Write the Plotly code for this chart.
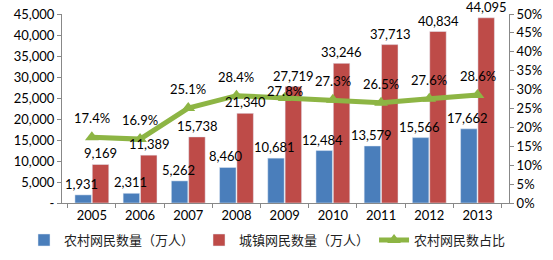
import plotly.graph_objects as go

years = ["2005", "2006", "2007", "2008", "2009", "2010", "2011", "2012", "2013"]
rural = [1931, 2311, 5262, 8460, 10681, 12484, 13579, 15566, 17662]
urban = [9169, 11389, 15738, 21340, 27719, 33246, 37713, 40834, 44095]
share = [17.4, 16.9, 25.1, 28.4, 27.8, 27.3, 26.5, 27.6, 28.6]

left_ticks = [0, 5000, 10000, 15000, 20000, 25000, 30000, 35000, 40000, 45000]
left_text = ["-"] + [f"{v:,}" for v in left_ticks[1:]]
right_ticks = [0, 5, 10, 15, 20, 25, 30, 35, 40, 45, 50]
right_text = [f"{v}%" for v in right_ticks]

# label offset tweaks (pixels), layout only
share_label_shift = {"2009": 7}

font_lat = "Lato, 'Noto Sans', sans-serif"
font_cjk = "'Noto Sans CJK SC', sans-serif"
green = "#8DB544"

fig = go.Figure()
fig.add_trace(go.Bar(
    x=years, y=rural, name="农村网民数量（万人）",
    marker=dict(color="#4A7EBB"),
))
fig.add_trace(go.Bar(
    x=years, y=urban, name="城镇网民数量（万人）",
    marker=dict(color="#BE4B48"),
))
fig.add_trace(go.Scatter(
    x=years, y=share, name="农村网民数占比", yaxis="y2",
    mode="lines+markers",
    line=dict(color=green, width=5),
    marker=dict(symbol="triangle-up", size=12, color=green),
    cliponaxis=False,
))

annotations = []
lab_font = dict(size=13, color="#000", family=font_lat)
for i, (yr, r, u, s) in enumerate(zip(years, rural, urban, share)):
    annotations.append(dict(x=i, y=r, xref="x", yref="y", text=f"{r:,}",
                            showarrow=False, yanchor="middle", xshift=-10, yshift=11,
                            font=lab_font))
    annotations.append(dict(x=i, y=u, xref="x", yref="y", text=f"{u:,}",
                            showarrow=False, yanchor="middle", xshift=9, yshift=11,
                            font=lab_font))
    annotations.append(dict(x=i, y=s, xref="x", yref="y2", text=f"{s}%",
                            showarrow=False, yanchor="middle",
                            yshift=share_label_shift.get(yr, 19),
                            font=lab_font))

fig.update_layout(
    width=553, height=260,
    margin=dict(l=62, r=44, t=14, b=57, autoexpand=False),
    paper_bgcolor="white", plot_bgcolor="white",
    barmode="group", bargap=0.28, bargroupgap=0.05,
    showlegend=True,
    annotations=annotations,
    legend=dict(orientation="h", x=-0.085, xanchor="left", y=-0.196, yanchor="middle",
                font=dict(size=13, family=font_cjk, color="#222"),
                itemwidth=30, tracegroupgap=0, traceorder="normal"),
    xaxis=dict(type="category", showline=True, linecolor="#888", linewidth=1,
               ticks="outside", ticklen=4, tickcolor="#888", tickson="boundaries",
               tickfont=dict(size=13, family=font_lat, color="#000"),
               showgrid=False),
    yaxis=dict(range=[0, 45000], tickvals=left_ticks, ticktext=left_text,
               showline=True, linecolor="#888", linewidth=1, ticks="outside",
               ticklen=4, tickcolor="#888", showgrid=False, zeroline=False,
               tickfont=dict(size=13, family=font_lat, color="#000")),
    yaxis2=dict(range=[0, 50], tickvals=right_ticks, ticktext=right_text,
                overlaying="y", side="right",
                showline=True, linecolor="#888", linewidth=1, ticks="outside",
                ticklen=4, tickcolor="#888", showgrid=False, zeroline=False,
                tickfont=dict(size=13, family=font_lat, color="#000")),
)

fig.write_html("out.html")
